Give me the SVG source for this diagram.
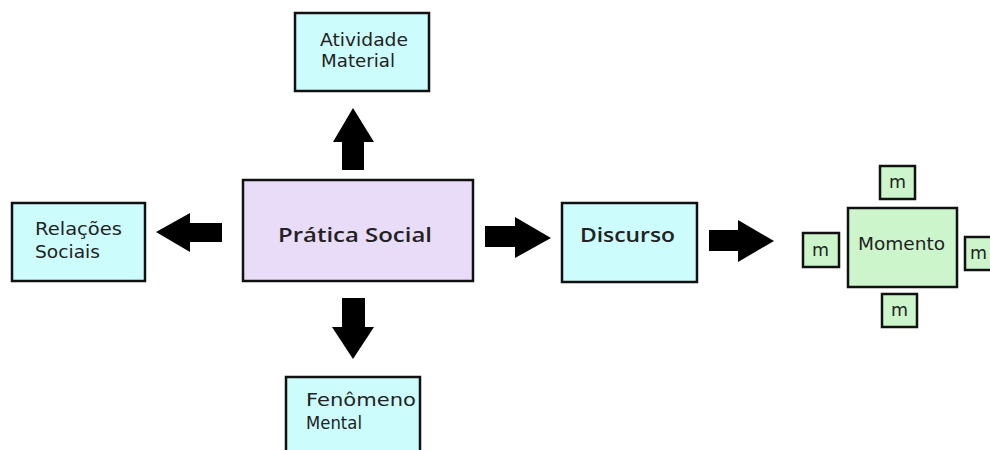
<svg xmlns="http://www.w3.org/2000/svg" width="990" height="450" viewBox="0 0 990 450">
<style>
.box{stroke:#111;stroke-width:2.5}
.cyan{fill:#ccfcfc}
.lav{fill:#e8dcf8}
.grn{fill:#ccf5cc}
.t{font-family:"DejaVu Sans",sans-serif;font-size:18px;fill:#222}
.b{font-family:"Open Sans","DejaVu Sans",sans-serif;font-size:19px;font-weight:600;fill:#222}
.arrow{fill:#000}
</style>
<rect width="990" height="450" fill="#fff"/>
<g id="connectors">
<polygon class="arrow" points="342,170 342,142 333,142 353,108 374,142 364,142 364,170"/>
<polygon class="arrow" points="342,298 365,298 365,327 374,327 353,359 332,327 342,327"/>
<polygon class="arrow" points="222,223 190,223 190,213 156,232 190,252 190,242 222,242"/>
<polygon class="arrow" points="485,226 515,226 515,217 551,238 515,258 515,247 485,247"/>
<polygon class="arrow" points="709,230 738,230 738,220 774,241 738,262 738,251 709,251"/>
</g>
<g id="atividade">
<rect class="box cyan" x="295" y="13" width="134" height="78"/>
<text class="t" x="320" y="46" textLength="88" lengthAdjust="spacingAndGlyphs">Atividade</text>
<text class="t" x="321" y="67" textLength="74" lengthAdjust="spacingAndGlyphs">Material</text>
</g>
<g id="relacoes">
<rect class="box cyan" x="12" y="203" width="133" height="78"/>
<text class="t" x="35" y="235" textLength="87" lengthAdjust="spacingAndGlyphs">Relações</text>
<text class="t" x="35" y="258" textLength="65" lengthAdjust="spacingAndGlyphs">Sociais</text>
</g>
<g id="pratica">
<rect class="box lav" x="243" y="180" width="230" height="101"/>
<text class="b" x="278" y="242" textLength="154" lengthAdjust="spacingAndGlyphs">Prática Social</text>
</g>
<g id="discurso">
<rect class="box cyan" x="562" y="203" width="135" height="79"/>
<text class="b" x="580" y="242" textLength="95" lengthAdjust="spacingAndGlyphs">Discurso</text>
</g>
<g id="fenomeno">
<rect class="box cyan" x="286" y="377" width="134" height="80"/>
<text class="t" x="306" y="406" textLength="110" lengthAdjust="spacingAndGlyphs">Fenômeno</text>
<text class="t" x="306" y="429" textLength="56" lengthAdjust="spacingAndGlyphs">Mental</text>
</g>
<g id="momento">
<rect class="box grn" x="848" y="208" width="109" height="79"/>
<text class="t" x="858" y="250" textLength="87" lengthAdjust="spacingAndGlyphs">Momento</text>
</g>
<g id="m-top">
<rect class="box grn" x="880" y="166" width="35" height="33"/>
<text class="t" x="889" y="188" textLength="17" lengthAdjust="spacingAndGlyphs">m</text>
</g>
<g id="m-left">
<rect class="box grn" x="803" y="233" width="36" height="34"/>
<text class="t" x="812" y="256" textLength="17" lengthAdjust="spacingAndGlyphs">m</text>
</g>
<g id="m-right">
<rect class="box grn" x="965" y="237" width="36" height="33"/>
<text class="t" x="970" y="259" textLength="17" lengthAdjust="spacingAndGlyphs">m</text>
</g>
<g id="m-bottom">
<rect class="box grn" x="882" y="294" width="35" height="33"/>
<text class="t" x="891" y="316" textLength="17" lengthAdjust="spacingAndGlyphs">m</text>
</g>
</svg>
